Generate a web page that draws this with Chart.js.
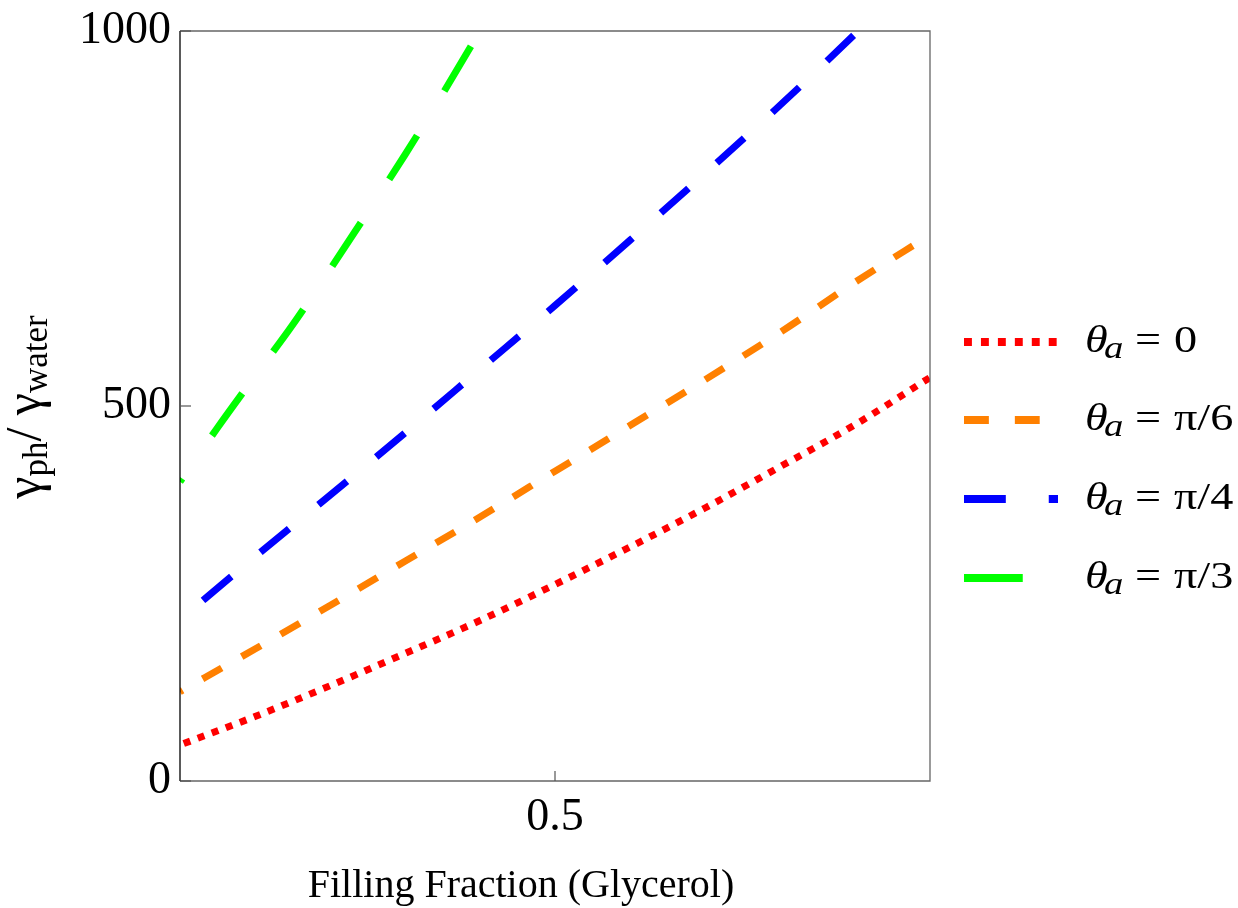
<!DOCTYPE html>
<html>
<head>
<meta charset="utf-8">
<script src="https://cdn.jsdelivr.net/npm/chart.js@4.4.0/dist/chart.umd.min.js"></script>
<style>
  body { margin: 0; background: #fff; }
  #wrap { width: 1238px; height: 908px; }
</style>
</head>
<body>
<div id="wrap"><canvas id="chart"></canvas></div>
<script>
// filling fraction of glycerol and the damping ratio gamma_ph / gamma_water
var fraction = [0, 0.1, 0.2, 0.3, 0.4, 0.5, 0.6, 0.7, 0.8, 0.9, 1];
var ratioTheta0 = [48, 86, 127, 170, 214, 262, 312, 364, 419, 475, 538];
var ratioPi6 = [119, 176, 234, 293, 352, 413, 474, 535, 598, 665, 728];
var fractionPi4 = [0, 0.1, 0.2, 0.3, 0.4, 0.5, 0.6, 0.7, 0.8, 0.9, 0.904];
var ratioPi4 = [215, 299, 381, 464, 549, 634, 721, 810, 901, 996, 1000];
var fractionPi3 = [0, 0.05, 0.1, 0.15, 0.2, 0.25, 0.3, 0.35, 0.4];
var ratioPi3 = [399, 471, 540, 608, 682, 758, 835, 916, 1000];
var angleLabels = ['0', 'π/6', 'π/4', 'π/3'];
var xTicks = [0.5];
var yTicks = [0, 500, 1000];

var SERIF = '"Liberation Serif", "Times New Roman", serif';

function pts(xs, ys) {
    var out = [];
    for (var i = 0; i < xs.length; i++) out.push({ x: xs[i], y: ys[i] });
    return out;
}

function series(label, xs, ys, color, dash, offset) {
    return {
        label: label,
        data: pts(xs, ys),
        borderColor: color,
        backgroundColor: color,
        borderWidth: 7,
        borderDash: dash,
        borderDashOffset: offset,
        borderCapStyle: 'butt',
        cubicInterpolationMode: 'monotone',
        pointRadius: 0,
        fill: false,
        clip: 0
    };
}

// draws a piece of legend text stretched sideways
function wideText(ctx, txt, x, y, font) {
    ctx.save();
    ctx.font = font;
    ctx.translate(x, y);
    ctx.scale(1.25, 1);
    ctx.fillText(txt, 0, 0);
    ctx.restore();
}

function noEdgePadding(scale) {
    scale.paddingTop = 0;
    scale.paddingBottom = 0;
    scale.paddingLeft = 0;
    scale.paddingRight = 0;
}

// frame, inside ticks, axis titles and the legend
var decorations = {
    id: 'decorations',
    afterDatasetsDraw: function (chart) {
        var ctx = chart.ctx, a = chart.chartArea;
        var xs = chart.scales.x, ys = chart.scales.y;
        ctx.save();
        ctx.lineWidth = 1.3;
        ctx.strokeStyle = '#666';
        ctx.beginPath();
        ctx.moveTo(a.left, a.top);
        ctx.lineTo(a.right, a.top);
        ctx.lineTo(a.right, a.bottom);
        ctx.lineTo(a.left, a.bottom);
        ctx.stroke();
        ctx.strokeStyle = '#000';
        ctx.beginPath();
        ctx.moveTo(a.left, a.top);
        ctx.lineTo(a.left, a.bottom);
        ctx.stroke();

        ctx.strokeStyle = '#555';
        ctx.lineWidth = 1.2;
        yTicks.forEach(function (v) {
            var py = ys.getPixelForValue(v);
            ctx.beginPath();
            ctx.moveTo(a.left, py);
            ctx.lineTo(a.left + 11, py);
            ctx.stroke();
        });
        xTicks.forEach(function (v) {
            var px = xs.getPixelForValue(v);
            ctx.beginPath();
            ctx.moveTo(px, a.bottom);
            ctx.lineTo(px, a.bottom - 10);
            ctx.stroke();
        });
        ctx.restore();
    },
    afterDraw: function (chart) {
        var ctx = chart.ctx;
        ctx.save();
        ctx.fillStyle = '#000';

        // x title
        ctx.font = '40px ' + SERIF;
        ctx.textAlign = 'center';
        ctx.textBaseline = 'alphabetic';
        ctx.fillText('Filling Fraction (Glycerol)', 521, 897);

        // y title, rotated, with subscripts
        var parts = [
            { t: 'γ', f: '50px ' + SERIF, dy: 0 },
            { t: 'ph', f: '35px ' + SERIF, dy: 7 },
            { t: '/ ', f: '50px ' + SERIF, dy: 0 },
            { t: 'γ', f: '50px ' + SERIF, dy: 0 },
            { t: 'water', f: '35px ' + SERIF, dy: 7 }
        ];
        var total = 0;
        parts.forEach(function (p) { ctx.font = p.f; p.w = ctx.measureText(p.t).width; total += p.w; });
        ctx.translate(40, 407);
        ctx.rotate(-Math.PI / 2);
        ctx.textAlign = 'left';
        var cx = -total / 2;
        parts.forEach(function (p) {
            ctx.font = p.f;
            ctx.fillText(p.t, cx, p.dy);
            cx += p.w;
        });
        ctx.setTransform(1, 0, 0, 1, 0, 0);

        // legend
        var rowY = [342, 420, 499, 578];
        chart.data.datasets.forEach(function (ds, i) {
            var y = rowY[i];
            ctx.save();
            ctx.strokeStyle = ds.borderColor;
            ctx.lineWidth = 8;
            ctx.lineCap = 'butt';
            ctx.setLineDash(ds.borderDash.map(function (d) { return d * 1.13; }));
            ctx.beginPath();
            ctx.moveTo(964, y);
            ctx.lineTo(1058, y);
            ctx.stroke();
            ctx.restore();

            var base = y + 10;
            ctx.textAlign = 'left';
            wideText(ctx, 'θ', 1085, base, 'italic 37px ' + SERIF);
            wideText(ctx, 'a', 1104, base + 6, 'italic 31px ' + SERIF);
            wideText(ctx, '=', 1135, base, '37px ' + SERIF);
            wideText(ctx, angleLabels[i], 1174, base, '37px ' + SERIF);
        });
        ctx.restore();
    }
};

var ctx = document.getElementById('chart');
new Chart(ctx, {
    type: 'line',
    data: {
        datasets: [
            series('θa = 0', fraction, ratioTheta0, '#ff0000', [7, 8], 11),
            series('θa = π/6', fraction, ratioPi6, '#ff8000', [22, 23], 19),
            series('θa = π/4', fractionPi4, ratioPi4, '#0000ff', [37, 38], 45),
            series('θa = π/3', fractionPi3, ratioPi3, '#00ff00', [52, 52], 48)
        ]
    },
    options: {
        responsive: true,
        maintainAspectRatio: false,
        animation: false,
        layout: { padding: { left: 0, right: 308, top: 31, bottom: 0 } },
        plugins: {
            legend: { display: false },
            tooltip: { enabled: false }
        },
        scales: {
            x: {
                type: 'linear',
                min: 0,
                max: 1,
                grid: { display: false, drawTicks: false },
                border: { display: false },
                afterBuildTicks: function (scale) {
                    scale.ticks = xTicks.map(function (v) { return { value: v }; });
                },
                afterFit: function (scale) { scale.height = 127; noEdgePadding(scale); },
                ticks: {
                    padding: 9,
                    maxRotation: 0,
                    color: '#000',
                    font: { family: SERIF, size: 46 },
                    callback: function (v) { return v.toFixed(1); }
                }
            },
            y: {
                type: 'linear',
                min: 0,
                max: 1000,
                grid: { display: false, drawTicks: false },
                border: { display: false },
                afterBuildTicks: function (scale) {
                    scale.ticks = yTicks.map(function (v) { return { value: v }; });
                },
                afterFit: function (scale) { scale.width = 180; noEdgePadding(scale); },
                ticks: {
                    padding: 9,
                    color: '#000',
                    font: { family: SERIF, size: 46 },
                    callback: function (v) { return String(v); }
                }
            }
        }
    },
    plugins: [decorations]
});
</script>
</body>
</html>
